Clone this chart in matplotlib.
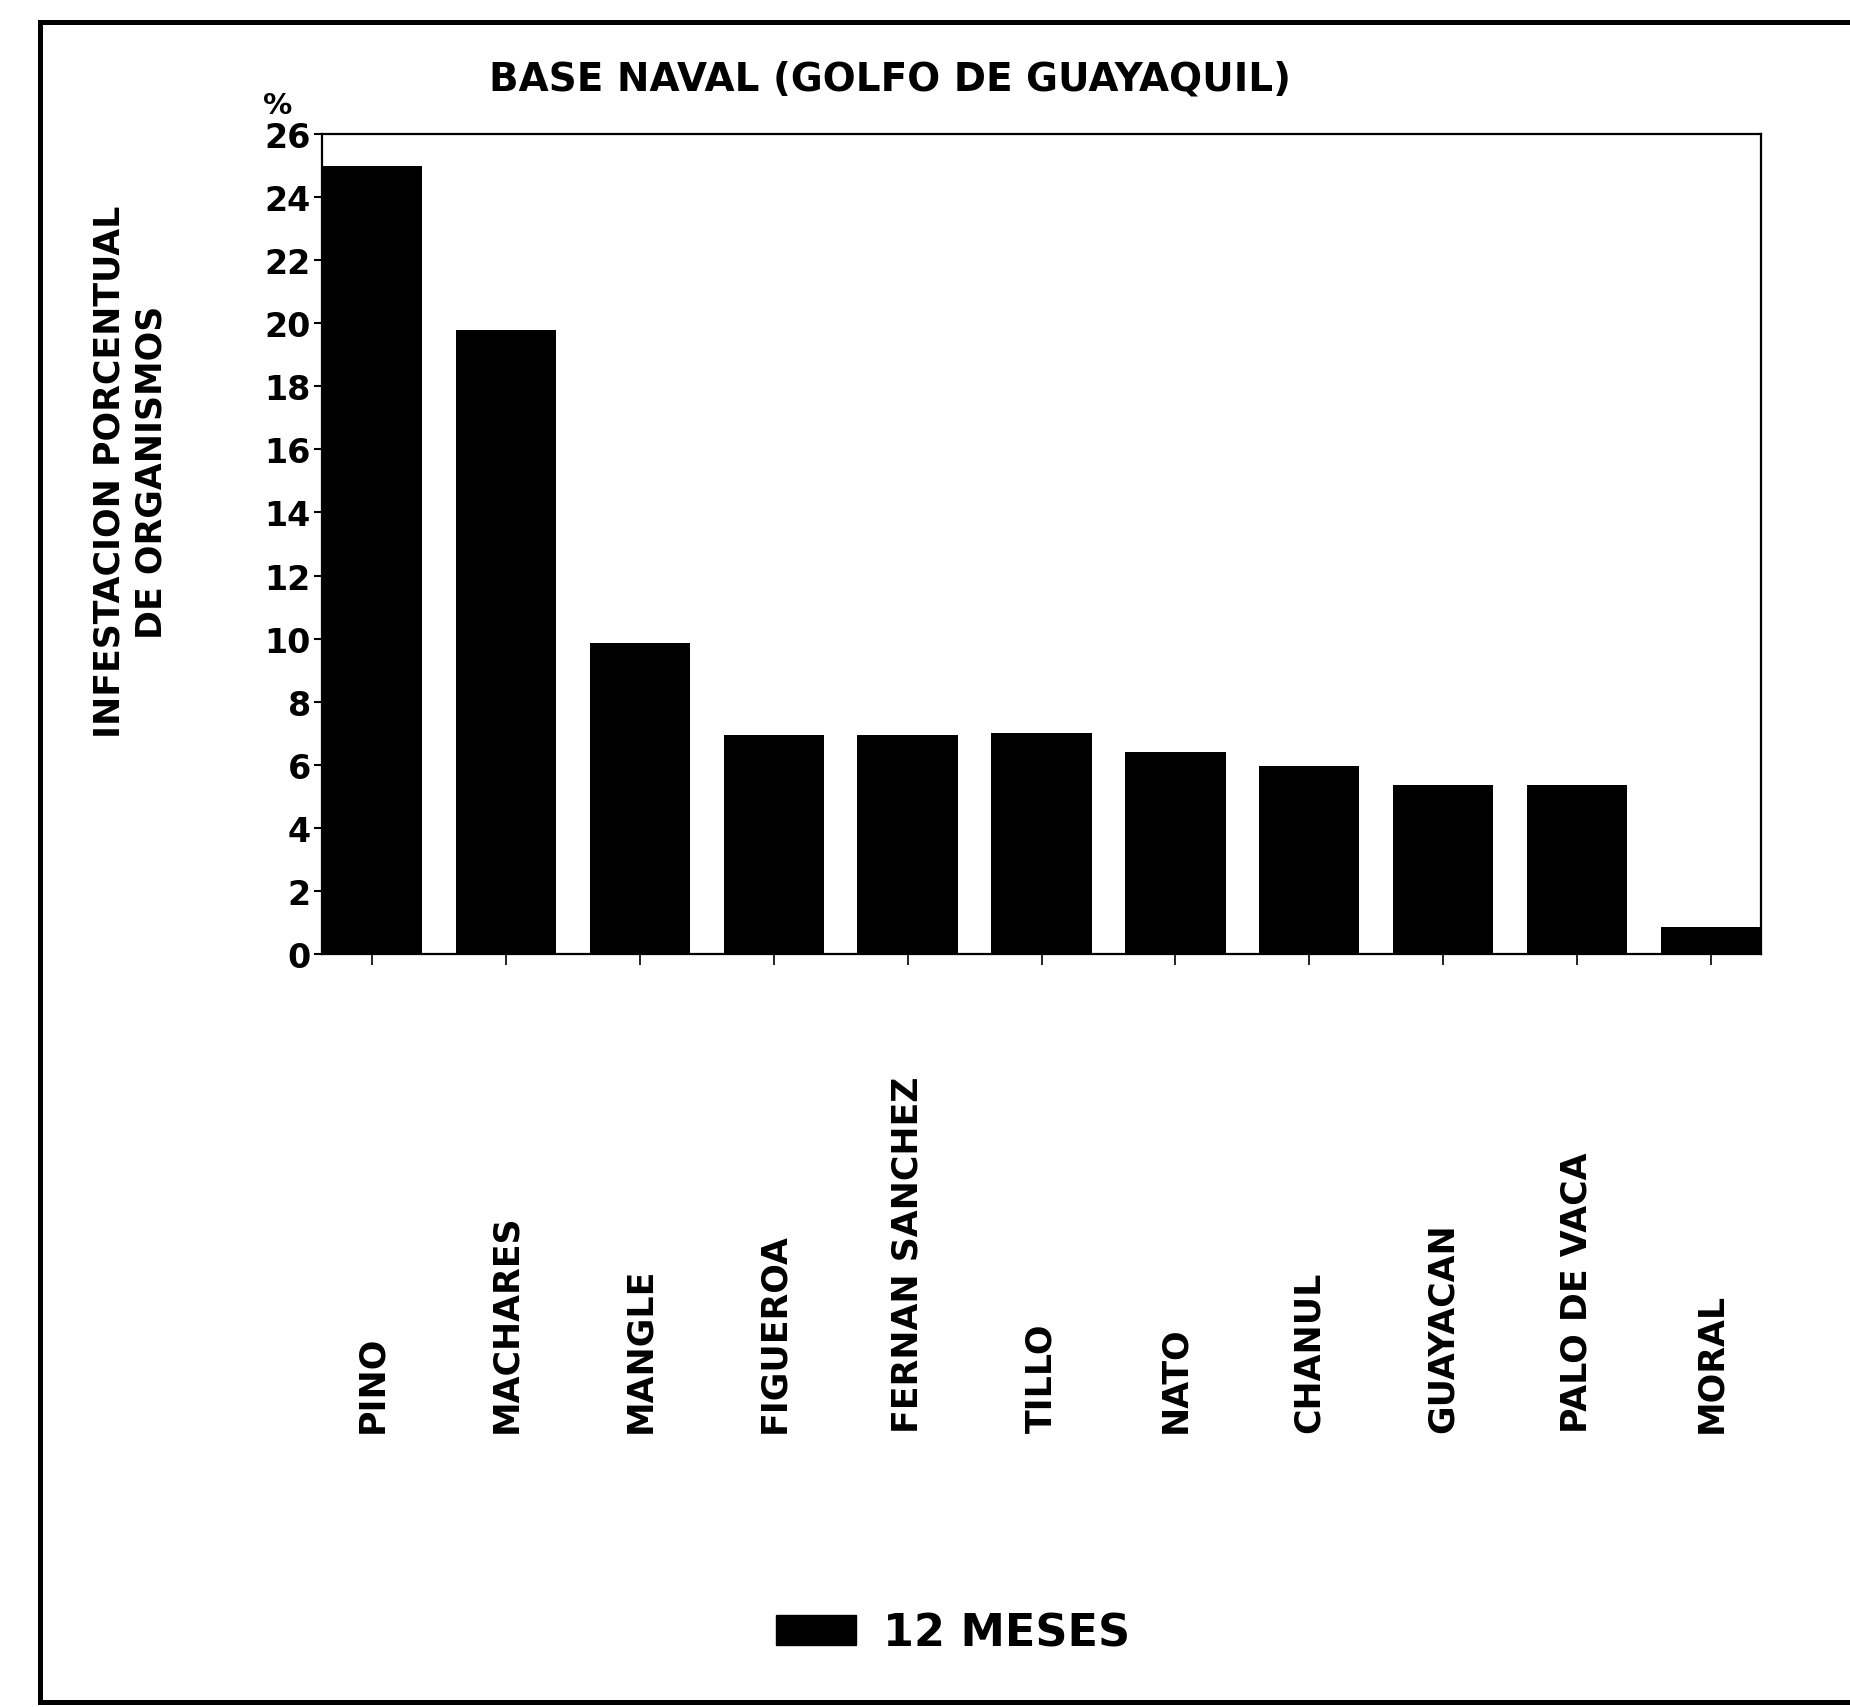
import matplotlib
matplotlib.use("Agg")
import matplotlib.pyplot as plt
from matplotlib.patches import Patch
from matplotlib.lines import Line2D

# ---- data ----
categories = ["PINO", "MACHARES", "MANGLE", "FIGUEROA", "FERNAN SANCHEZ",
              "TILLO", "NATO", "CHANUL", "GUAYACAN", "PALO DE VACA", "MORAL"]
values_12m = [25.0, 19.8, 9.85, 6.95, 6.95, 7.0, 6.4, 5.95, 5.35, 5.35, 0.85]
yticks = list(range(0, 27, 2))
series_label = "12 MESES"
title = "BASE NAVAL (GOLFO DE GUAYAQUIL)"
ylabel = "INFESTACION PORCENTUAL\nDE ORGANISMOS"

plt.rcParams['font.family'] = ['DejaVu Sans']

W, H = 1850, 1708
fig = plt.figure(figsize=(W / 100, H / 100), dpi=100)
fig.patch.set_facecolor("white")

ax = fig.add_axes([322 / W, 1 - 955 / H, (1761 - 322) / W, (955 - 135) / H])

x = list(range(len(categories)))
bar_w = 0.75
ax.bar(x, values_12m, width=bar_w, color="black", edgecolor="black", linewidth=0)

ax.set_xlim(-bar_w / 2, len(categories) - 1 + bar_w / 2)
ax.set_ylim(0, 26)
ax.set_yticks(yticks)
ax.set_yticklabels([str(v) for v in yticks], fontsize=24, fontweight="bold")
ax.set_xticks(x)
ax.set_xticklabels(categories, rotation=90, fontsize=25, fontweight="bold",
                   va="bottom", ha="center")
ax.tick_params(axis="y", direction="out", length=6, width=1.5, pad=2)
ax.tick_params(axis="x", direction="out", length=8, width=1.2, pad=336)

for sp in ax.spines.values():
    sp.set_linewidth(1.6)
    sp.set_color("black")

ax.set_ylabel(ylabel, fontsize=25, fontweight="bold", linespacing=1.3,
              multialignment="center")
ax.yaxis.set_label_coords((169 - 322) / 1439, (955 - 472) / 820)

fig.text(890 / W, 1 - 80 / H, title, fontsize=28, fontweight="bold",
         ha="center", va="center")
fig.text(278 / W, 1 - 106 / H, "%", fontsize=21, fontweight="bold",
         ha="center", va="center")

fig.legend(handles=[Patch(facecolor="black", edgecolor="black")],
           labels=[series_label], loc="center",
           bbox_to_anchor=(953 / W, 1 - 1634 / H), frameon=False,
           prop={"size": 32, "weight": "bold"},
           handlelength=1.8, handleheight=0.66, handletextpad=0.6)

# outer frame (open on the right side)
lw = 3.6
xl, yt, yb = 40 / W, 1 - 23 / H, 1 - 1703 / H
fig.add_artist(Line2D([xl, 1.01], [yt, yt], transform=fig.transFigure,
                      color="black", linewidth=lw))
fig.add_artist(Line2D([xl, 1.01], [yb, yb], transform=fig.transFigure,
                      color="black", linewidth=lw))
fig.add_artist(Line2D([xl, xl], [yb, yt], transform=fig.transFigure,
                      color="black", linewidth=lw))

fig.savefig("out.png", dpi=100, facecolor="white")
